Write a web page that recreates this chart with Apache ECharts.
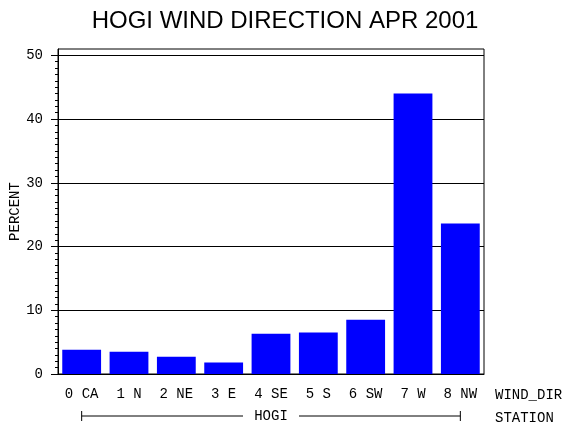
<!DOCTYPE html>
<html>
<head>
<meta charset="utf-8">
<script src="https://cdn.jsdelivr.net/npm/echarts@6/dist/echarts.min.js"></script>
<style>
  html, body { margin: 0; padding: 0; background: #fff; }
  #chart { width: 570px; height: 430px; }
</style>
</head>
<body>
<div id="chart"></div>
<script>
// wind direction categories and percent of hours
const categories = ['0 CA', '1 N', '2 NE', '3 E', '4 SE', '5 S', '6 SW', '7 W', '8 NW']
const percent = [3.8, 3.5, 2.7, 1.8, 6.3, 6.5, 8.5, 44.0, 23.6]
const yTicks = [0, 10, 20, 30, 40, 50]
const station = 'HOGI'

// small ticks every 1 unit between the labelled ones
const minorTicks = []
for (let v = 1; v < 50; v++) {
  if (v % 10 !== 0) minorTicks.push(v)
}

const mono = 'Liberation Mono'
const myChart = echarts.init(document.getElementById('chart'), null, { renderer: 'canvas' })

const option = {
  backgroundColor: '#fff',
  animation: false,
  title: {
    text: 'HOGI WIND DIRECTION APR 2001',
    left: 'center',
    top: 9,
    padding: 0,
    textStyle: { fontFamily: 'Liberation Sans', fontSize: 24, fontWeight: 'normal', color: '#000' }
  },
  grid: {
    left: 58, right: 86, top: 49, bottom: 56,
    outerBoundsMode: 'none',
    containLabel: false,
    show: true, borderColor: '#000', borderWidth: 1, backgroundColor: 'transparent'
  },
  xAxis: {
    type: 'category',
    data: categories,
    name: 'WIND_DIR',
    nameLocation: 'end',
    nameGap: 11,
    nameTextStyle: { fontFamily: mono, fontSize: 14, color: '#000', verticalAlign: 'top', padding: [14, 0, 0, 0] },
    axisLine: { lineStyle: { color: '#000', width: 1 } },
    axisTick: { show: false },
    axisLabel: { interval: 0, margin: 13, fontFamily: mono, fontSize: 14, color: '#000' }
  },
  yAxis: [
    {
      type: 'value',
      min: 0,
      max: 51,
      interval: 10,
      name: 'PERCENT',
      nameLocation: 'middle',
      nameRotate: 90,
      nameGap: 36,
      nameMoveOverlap: false,
      nameTextStyle: { fontFamily: mono, fontSize: 14, color: '#000' },
      axisLine: { show: true, lineStyle: { color: '#000', width: 1 } },
      axisTick: { show: true, length: 7, customValues: yTicks, lineStyle: { color: '#000' } },
      axisLabel: { margin: 15, customValues: yTicks, fontFamily: mono, fontSize: 14, color: '#000' },
      splitLine: { show: true, lineStyle: { color: '#000', width: 1 } }
    },
    {
      type: 'value',
      min: 0,
      max: 51,
      position: 'left',
      axisLine: { show: false },
      axisTick: { show: true, length: 3, customValues: minorTicks, lineStyle: { color: '#000' } },
      axisLabel: { show: false },
      splitLine: { show: false }
    }
  ],
  series: [{
    type: 'bar',
    data: percent,
    barCategoryGap: '18%',
    itemStyle: { color: '#0000ff' }
  }]
}

myChart.setOption(option)

// station bracket under the category labels, spanning first to last bar
const xa = myChart.convertToPixel({ xAxisIndex: 0 }, categories[0])
const xb = myChart.convertToPixel({ xAxisIndex: 0 }, categories[categories.length - 1])
const by = 416
const mid = (xa + xb) / 2
const stroke = { stroke: '#000', lineWidth: 1 }
myChart.setOption({
  graphic: [
    { type: 'line', shape: { x1: xa, y1: by, x2: mid - 28, y2: by }, style: stroke },
    { type: 'line', shape: { x1: mid + 28, y1: by, x2: xb, y2: by }, style: stroke },
    { type: 'line', shape: { x1: xa, y1: by - 5, x2: xa, y2: by + 5 }, style: stroke },
    { type: 'line', shape: { x1: xb, y1: by - 5, x2: xb, y2: by + 5 }, style: stroke },
    {
      type: 'text', x: mid, y: by,
      style: { text: station, font: '14px ' + mono, fill: '#000', textAlign: 'center', textVerticalAlign: 'middle' }
    },
    {
      type: 'text', x: 495, y: by + 2,
      style: { text: 'STATION', font: '14px ' + mono, fill: '#000', textAlign: 'left', textVerticalAlign: 'middle' }
    }
  ]
})

window.addEventListener('resize', () => {
  myChart.resize()
})
</script>
</body>
</html>
